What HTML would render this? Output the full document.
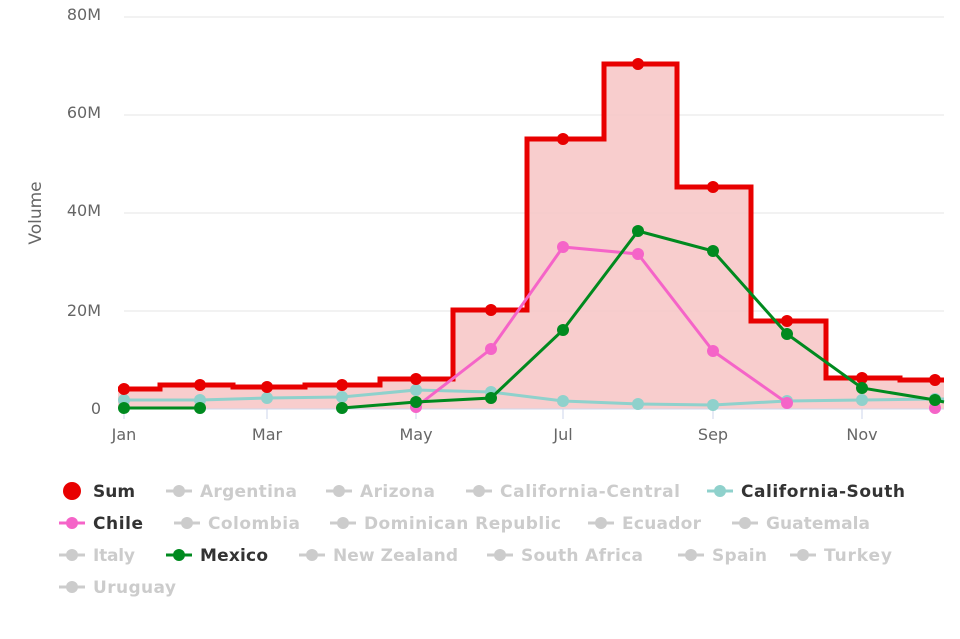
<!DOCTYPE html>
<html><head><meta charset="utf-8"><style>
body{margin:0;background:#fff}
svg{display:block;font-family:"DejaVu Sans","Liberation Sans",sans-serif}
.ax{fill:#666;font-size:16px}
.lg{font-size:17px;font-weight:bold;fill:#ccc}
.on{fill:#333}
</style></head><body>
<svg width="960" height="639" viewBox="0 0 960 639">
<g stroke="#e6e6e6" stroke-width="1">
<line x1="124" y1="17" x2="944" y2="17"/>
<line x1="124" y1="115" x2="944" y2="115"/>
<line x1="124" y1="213" x2="944" y2="213"/>
<line x1="124" y1="311" x2="944" y2="311"/>
</g>
<g class="ax" text-anchor="end">
<text x="101" y="20">80M</text><text x="101" y="118">60M</text><text x="101" y="216">40M</text><text x="101" y="316">20M</text><text x="101" y="414">0</text>
</g>
<text class="ax" transform="translate(41,213) rotate(-90)" text-anchor="middle" style="font-size:17px">Volume</text>
<path d="M118,409 L118,389 L160,389 L160,385 L233,385 L233,387 L305,387 L305,385 L380,385 L380,379 L453,379 L453,310 L527,310 L527,139 L604,139 L604,64 L677,64 L677,187 L751,187 L751,321 L826,321 L826,378 L900,378 L900,380 L944,380 L944,409 Z" fill="#f7c4c4" fill-opacity="0.85"/>
<line x1="118" y1="409" x2="944" y2="409" stroke="#ccd6eb"/>
<g stroke="#ccd6eb"><line x1="124" y1="409" x2="124" y2="419"/><line x1="267" y1="409" x2="267" y2="419"/><line x1="416" y1="409" x2="416" y2="419"/><line x1="563" y1="409" x2="563" y2="419"/><line x1="713" y1="409" x2="713" y2="419"/><line x1="862" y1="409" x2="862" y2="419"/></g>
<g class="ax" text-anchor="middle"><text x="124" y="440">Jan</text><text x="267" y="440">Mar</text><text x="416" y="440">May</text><text x="563" y="440">Jul</text><text x="713" y="440">Sep</text><text x="862" y="440">Nov</text></g>
<polyline points="124,400 200,400 267,398 342,397 416,390 491,392 563,401 638,404 713,405 787,401 862,400 935,399 944,399" fill="none" stroke="#8fd1cc" stroke-width="3"/>
<g fill="#8fd1cc"><circle cx="124" cy="400" r="6"/><circle cx="200" cy="400" r="6"/><circle cx="267" cy="398" r="6"/><circle cx="342" cy="397" r="6"/><circle cx="416" cy="390" r="6"/><circle cx="491" cy="392" r="6"/><circle cx="563" cy="401" r="6"/><circle cx="638" cy="404" r="6"/><circle cx="713" cy="405" r="6"/><circle cx="787" cy="401" r="6"/><circle cx="862" cy="400" r="6"/><circle cx="935" cy="399" r="6"/></g>
<path d="M118,389 L160,389 L160,385 L233,385 L233,387 L305,387 L305,385 L380,385 L380,379 L453,379 L453,310 L527,310 L527,139 L604,139 L604,64 L677,64 L677,187 L751,187 L751,321 L826,321 L826,378 L900,378 L900,380 L944,380" fill="none" stroke="#e80000" stroke-width="5"/>
<g fill="#e80000"><circle cx="124" cy="389" r="6"/><circle cx="200" cy="385" r="6"/><circle cx="267" cy="387" r="6"/><circle cx="342" cy="385" r="6"/><circle cx="416" cy="379" r="6"/><circle cx="491" cy="310" r="6"/><circle cx="563" cy="139" r="6"/><circle cx="638" cy="64" r="6"/><circle cx="713" cy="187" r="6"/><circle cx="787" cy="321" r="6"/><circle cx="862" cy="378" r="6"/><circle cx="935" cy="380" r="6"/></g>
<polyline points="416,407 491,349 563,247 638,254 713,351 787,403" fill="none" stroke="#f564c8" stroke-width="3"/>
<g fill="#f564c8"><circle cx="416" cy="407" r="6"/><circle cx="491" cy="349" r="6"/><circle cx="563" cy="247" r="6"/><circle cx="638" cy="254" r="6"/><circle cx="713" cy="351" r="6"/><circle cx="787" cy="403" r="6"/><circle cx="935" cy="408" r="6"/></g>
<polyline points="124,408 200,408" fill="none" stroke="#008a1f" stroke-width="3"/>
<polyline points="342,408 416,402 491,398 563,330 638,231 713,251 787,334 862,388 935,400 944,402" fill="none" stroke="#008a1f" stroke-width="3"/>
<g fill="#008a1f"><circle cx="124" cy="408" r="6"/><circle cx="200" cy="408" r="6"/><circle cx="342" cy="408" r="6"/><circle cx="416" cy="402" r="6"/><circle cx="491" cy="398" r="6"/><circle cx="563" cy="330" r="6"/><circle cx="638" cy="231" r="6"/><circle cx="713" cy="251" r="6"/><circle cx="787" cy="334" r="6"/><circle cx="862" cy="388" r="6"/><circle cx="935" cy="400" r="6"/></g>
<g>
<circle cx="72" cy="491" r="9" fill="#e80000"/><text class="lg on" x="93" y="497">Sum</text>
<g stroke="#ccc" stroke-width="3"><line x1="166" y1="491" x2="192" y2="491"/><line x1="326" y1="491" x2="352" y2="491"/><line x1="466" y1="491" x2="492" y2="491"/>
<line x1="174" y1="523" x2="200" y2="523"/><line x1="330" y1="523" x2="356" y2="523"/><line x1="588" y1="523" x2="614" y2="523"/><line x1="732" y1="523" x2="758" y2="523"/>
<line x1="59" y1="555" x2="85" y2="555"/><line x1="299" y1="555" x2="325" y2="555"/><line x1="487" y1="555" x2="513" y2="555"/><line x1="678" y1="555" x2="704" y2="555"/><line x1="790" y1="555" x2="816" y2="555"/>
<line x1="59" y1="587" x2="85" y2="587"/></g>
<g fill="#ccc"><circle cx="179" cy="491" r="6"/><circle cx="339" cy="491" r="6"/><circle cx="479" cy="491" r="6"/><circle cx="187" cy="523" r="6"/><circle cx="343" cy="523" r="6"/><circle cx="601" cy="523" r="6"/><circle cx="745" cy="523" r="6"/><circle cx="72" cy="555" r="6"/><circle cx="312" cy="555" r="6"/><circle cx="500" cy="555" r="6"/><circle cx="691" cy="555" r="6"/><circle cx="803" cy="555" r="6"/><circle cx="72" cy="587" r="6"/></g>
<line x1="707" y1="491" x2="733" y2="491" stroke="#8fd1cc" stroke-width="3"/><circle cx="720" cy="491" r="6" fill="#8fd1cc"/>
<line x1="59" y1="523" x2="85" y2="523" stroke="#f564c8" stroke-width="3"/><circle cx="72" cy="523" r="6" fill="#f564c8"/>
<line x1="166" y1="555" x2="192" y2="555" stroke="#008a1f" stroke-width="3"/><circle cx="179" cy="555" r="6" fill="#008a1f"/>
<text class="lg" x="200" y="497" textLength="97">Argentina</text>
<text class="lg" x="360" y="497" textLength="75">Arizona</text>
<text class="lg" x="500" y="497" textLength="180">California-Central</text>
<text class="lg on" x="741" y="497" textLength="164">California-South</text>
<text class="lg on" x="93" y="529" textLength="50">Chile</text>
<text class="lg" x="208" y="529" textLength="92">Colombia</text>
<text class="lg" x="364" y="529" textLength="197">Dominican Republic</text>
<text class="lg" x="622" y="529" textLength="79">Ecuador</text>
<text class="lg" x="766" y="529" textLength="104">Guatemala</text>
<text class="lg" x="93" y="561" textLength="42">Italy</text>
<text class="lg on" x="200" y="561" textLength="68">Mexico</text>
<text class="lg" x="333" y="561" textLength="125">New Zealand</text>
<text class="lg" x="521" y="561" textLength="122">South Africa</text>
<text class="lg" x="712" y="561" textLength="55">Spain</text>
<text class="lg" x="824" y="561" textLength="68">Turkey</text>
<text class="lg" x="93" y="593" textLength="83">Uruguay</text>
</g>
</svg>
</body></html>
